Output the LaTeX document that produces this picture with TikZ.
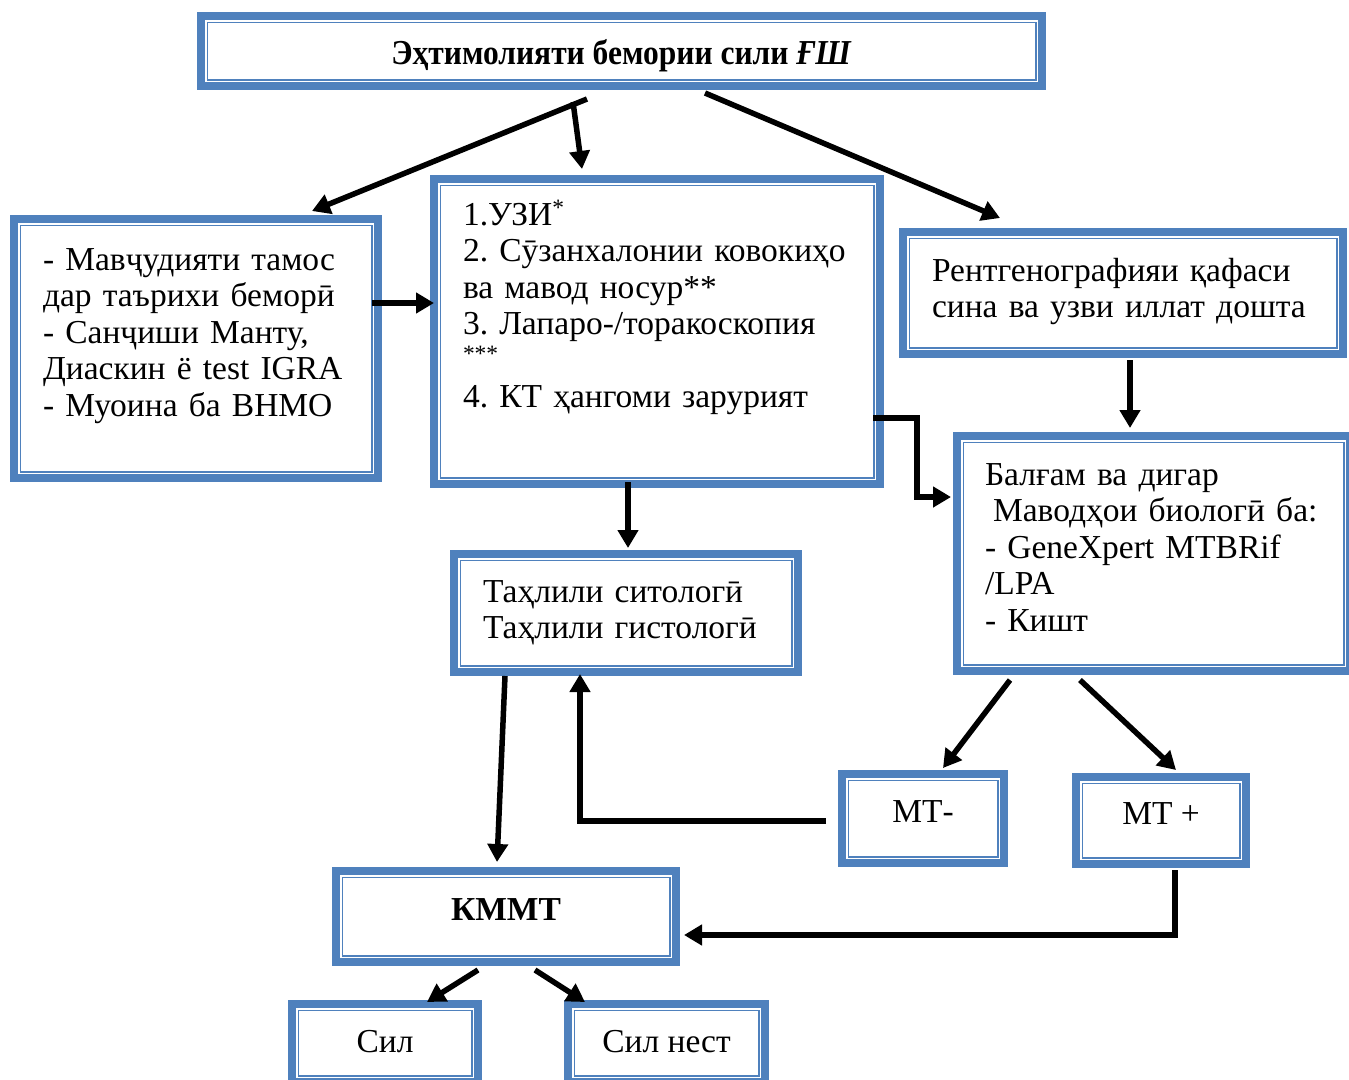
\documentclass[tikz,border=0pt]{standalone}
\usepackage{fontspec}
\setmainfont{Liberation Serif}
\usepackage{xcolor}
\usepackage{graphicx}
\usepackage{tikz}
\usetikzlibrary{arrows.meta,positioning}
\definecolor{frameblue}{RGB}{79,129,189}
\frenchspacing

\begin{document}
\begin{tikzpicture}[
  x=1pt, y=-1pt,
  font=\fontsize{33.5}{36.5}\selectfont,
  frame/.style={draw=frameblue, line width=8pt, fill=white, inner sep=0pt,
    path picture={\draw[frameblue, line width=1.8pt]
      ([shift={(6.4pt,-6.4pt)}]path picture bounding box.north west) rectangle
      ([shift={(-6.4pt,6.4pt)}]path picture bounding box.south east);}},
  list/.style={frame, align=left, inner ysep=0pt},
  tag/.style={frame, text height=20pt, text depth=12pt},
  flow/.style={-{Triangle[length=18pt, width=20pt]}, line width=5.5pt}
]
\useasboundingbox (0,0) rectangle (1349,1079);

\node[frame, minimum width=841pt, minimum height=70pt, text height=30pt, text depth=4pt,
  font=\fontsize{35}{38}\selectfont\bfseries] (title) at (621.5,51)
  {\scalebox{0.9}[1]{Эҳтимолияти бемории сили \textit{ҒШ}}};
\node[list, text width=306pt, inner xsep=29pt, text height=51pt, text depth=208pt] (contact) at (196,348.5)
  {- Мавҷудияти~тамос\\дар~таърихи~беморӣ\\- Санҷиши~Манту,\\Диаскин~ё~test~IGRA\\- Муоина~ба~ВНМО};
\node[list, text width=388pt, inner xsep=29pt, text height=46pt, text depth=259pt] (exams) at (657,331.5)
  {1.УЗИ\textsuperscript{*}\\2.~Сӯзанхалонии~ковокиҳо\\ва~мавод~носур**\\3.~Лапаро-/торакоскопия\\\textsuperscript{***}\\4.~КТ~ҳангоми~зарурият};
\node[list, text width=382pt, inner xsep=29pt, text height=49pt, text depth=73pt] (xray) at (1123,293)
  {Рентгенографияи~қафаси\\сина~ва~узви~иллат~дошта};
\node[list, text width=337pt, inner xsep=28pt, text height=49pt, text depth=186pt] (sputum) at (1153.5,553.5)
  {Балғам~ва~дигар\\\hspace*{8pt}Маводҳои~биологӣ~ба:\\- GeneXpert~MTBRif\\/LPA\\- Кишт};
\node[list, text width=286pt, inner xsep=29pt, text height=48pt, text depth=70pt] (histo) at (626,613)
  {Таҳлили~ситологӣ\\Таҳлили~гистологӣ};
\node[tag, minimum width=162pt, minimum height=89pt] (mtneg) at (923,818.5) {МТ-};
\node[tag, minimum width=170pt, minimum height=87pt] (mtpos) at (1161,820.5) {МТ +};
\node[tag, minimum width=340pt, minimum height=91pt, font=\fontsize{33.5}{36.5}\selectfont\bfseries] (kmmt) at (506,916.5) {КММТ};
\node[tag, minimum width=186pt, minimum height=78pt, text height=24pt, text depth=6pt] (tb) at (385,1043) {Сил};
\node[tag, minimum width=197pt, minimum height=78pt, text height=24pt, text depth=6pt] (notb) at (666.5,1043) {Сил нест};

\draw[flow] ([xshift=-34.5pt, yshift=-9pt]title.south) -- ([xshift=116pt, yshift=4pt]contact.north);
\draw[flow] ([xshift=-48.5pt, yshift=-12pt]title.south) -- ([xshift=-75pt, yshift=6pt]exams.north);
\draw[flow] ([xshift=83.5pt, yshift=-3pt]title.south) -- ([xshift=-123pt, yshift=10pt]xray.north);
\draw[flow] ([xshift=-10pt, yshift=45.5pt]contact.east) -- ([xshift=4pt, yshift=28.5pt]exams.west);
\draw[flow] ([xshift=7pt, yshift=-2pt]xray.south) -- ([xshift=-23.5pt, yshift=4pt]sputum.north);
\draw[flow] ([xshift=-11pt, yshift=-86.5pt]exams.east) -- ++(44,0) |- ([xshift=-2pt, yshift=56.5pt]sputum.west);
\draw[flow] ([xshift=-29pt, yshift=6pt]exams.south) -- ([xshift=2pt, yshift=2pt]histo.north);
\draw[flow] ([xshift=-143.5pt, yshift=-5pt]sputum.south) -- ([xshift=20pt, yshift=2pt]mtneg.north);
\draw[flow] ([xshift=-73.5pt, yshift=-5pt]sputum.south) -- ([xshift=15pt, yshift=3pt]mtpos.north);
\draw[flow] ([xshift=-12pt, yshift=-2.5pt]mtneg.west) -| ([xshift=-46pt, yshift=2pt]histo.south);
\draw[flow] ([xshift=-121pt]histo.south) -- ([xshift=-9pt, yshift=5pt]kmmt.north);
\draw[flow] ([xshift=14pt, yshift=-2pt]mtpos.south) |- ([xshift=4pt, yshift=-18.5pt]kmmt.east);
\draw[flow] ([xshift=-28pt, yshift=-4pt]kmmt.south) -- ([xshift=42pt, yshift=-2pt]tb.north);
\draw[flow] ([xshift=29pt, yshift=-4pt]kmmt.south) -- ([xshift=-81.5pt, yshift=-2pt]notb.north);
\end{tikzpicture}
\end{document}
